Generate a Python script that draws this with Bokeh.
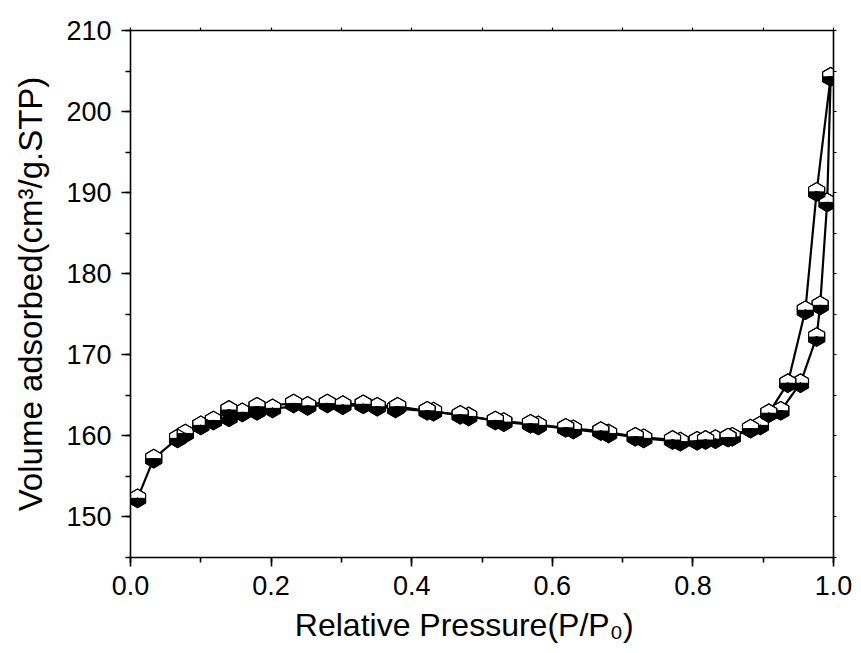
import numpy as np
from bokeh.plotting import figure
from bokeh.models import Range1d, LinearAxis, SingleIntervalTicker, PrintfTickFormatter, ColumnDataSource
from bokeh.embed import file_html
from bokeh.resources import INLINE

# ---- data ----
ads_p = [0.010, 0.033, 0.067, 0.078, 0.100, 0.118, 0.140, 0.159, 0.180, 0.202,
         0.252, 0.302, 0.351, 0.377, 0.431, 0.481, 0.531, 0.580, 0.630, 0.680,
         0.730, 0.782, 0.806, 0.832, 0.856, 0.896, 0.925, 0.953, 0.976, 0.981,
         0.991, 0.996]
ads_v = [152.3, 157.2, 159.7, 160.3, 161.3, 161.9, 162.3, 162.9, 163.1, 163.4,
         163.7, 163.8, 163.6, 163.4, 163.0, 162.4, 161.7, 161.3, 160.8, 160.3,
         159.7, 159.3, 159.4, 159.6, 159.9, 161.3, 163.1, 166.5, 172.2, 176.1,
         188.8, 204.3]
des_p = [0.996, 0.976, 0.960, 0.935, 0.908, 0.882, 0.850, 0.818, 0.771, 0.718,
         0.669, 0.619, 0.569, 0.519, 0.469, 0.422, 0.380, 0.331, 0.280, 0.232,
         0.180, 0.140]
des_v = [204.3, 190.1, 175.5, 166.5, 162.8, 160.9, 159.8, 159.5, 159.5, 159.9,
         160.6, 161.0, 161.5, 161.9, 162.6, 163.1, 163.6, 163.9, 164.0, 164.0,
         163.6, 163.2]

x_label = "Relative Pressure(P/P\u2080)\u2007\u2007"
y_label = "Volume adsorbed(cm\u00b3/g.STP)"

FONT = "Liberation Sans"

p = figure(width=853, height=645, output_backend="svg", toolbar_location=None,
           x_range=Range1d(0, 1.0), y_range=Range1d(145, 210),
           min_border_left=130, min_border_right=20, min_border_top=30,
           min_border_bottom=88, x_axis_label=x_label, y_axis_label=y_label)
p.xgrid.visible = False
p.ygrid.visible = False
p.outline_line_color = None
p.background_fill_color = "white"
p.border_fill_color = "white"

p.xaxis.ticker = SingleIntervalTicker(interval=0.2, num_minor_ticks=2)
p.yaxis.ticker = SingleIntervalTicker(interval=10, num_minor_ticks=2)
p.xaxis.formatter = PrintfTickFormatter(format="%.1f")
p.yaxis.formatter = PrintfTickFormatter(format="%d")
for ax in (p.xaxis[0], p.yaxis[0]):
    ax.axis_line_width = 1.6
    ax.major_tick_line_width = 1.6
    ax.minor_tick_line_width = 1.6
    ax.major_tick_in = 0
    ax.major_tick_out = 9
    ax.minor_tick_in = 0
    ax.minor_tick_out = 5
    ax.major_label_text_font = FONT
    ax.major_label_text_font_size = "27px"
    ax.major_label_text_color = "black"
    ax.axis_label_text_font = FONT
    ax.axis_label_text_font_style = "normal"
    ax.axis_label_text_color = "black"
p.xaxis.axis_label_text_font_size = "32px"
p.yaxis.axis_label_text_font_size = "33px"
p.xaxis.major_label_standoff = 9
p.yaxis.major_label_standoff = 10
p.xaxis.axis_label_standoff = 9
p.yaxis.axis_label_standoff = 14

top = LinearAxis(ticker=SingleIntervalTicker(interval=0.1, num_minor_ticks=0),
                 major_label_text_font_size="1px", major_label_text_color=None,
                 axis_line_width=1.6, major_tick_line_width=1.2,
                 major_tick_in=0, major_tick_out=3, minor_tick_line_color=None)
right = LinearAxis(ticker=SingleIntervalTicker(interval=5, num_minor_ticks=0),
                   major_label_text_font_size="1px", major_label_text_color=None,
                   axis_line_width=1.6, major_tick_line_width=1.2,
                   major_tick_in=0, major_tick_out=3, minor_tick_line_color=None)
p.add_layout(top, "above")
p.add_layout(right, "right")

ads = ColumnDataSource(dict(x=ads_p, y=ads_v))
des = ColumnDataSource(dict(x=des_p, y=des_v))

p.line("x", "y", source=ads, line_color="black", line_width=2.2)
p.line("x", "y", source=des, line_color="black", line_width=2.2)

# half-filled hexagon markers (white top, black bottom)
R = 9.3
apo = R * np.cos(np.pi / 6)
normals = np.radians(np.arange(0, 360, 60))


def boundary_min(t0, t1):
    th = np.radians(np.linspace(t0, t1, 60))
    d = apo / np.max(np.cos(th[:, None] - normals[None, :]), axis=1)
    return float(d.min())


step = 10
for src in (ads, des):
    p.scatter("x", "y", source=src, marker="hex", size=2 * R, angle=np.pi / 6,
              fill_color="white", line_color="black", line_width=1)
    for t0 in range(180, 360, step):
        t1 = t0 + step
        rr = boundary_min(t0, t1) - 0.3
        p.wedge("x", "y", source=src, radius=rr, radius_units="screen",
                start_angle=np.radians(max(180, t0 - 2)),
                end_angle=np.radians(min(360, t1 + 2)),
                fill_color="black", line_color="black", line_width=0.8)
    p.scatter("x", "y", source=src, marker="hex", size=2 * R, angle=np.pi / 6,
              fill_alpha=0, line_color="black", line_width=1.2)

open("out.html", "w").write(file_html(p, INLINE))
